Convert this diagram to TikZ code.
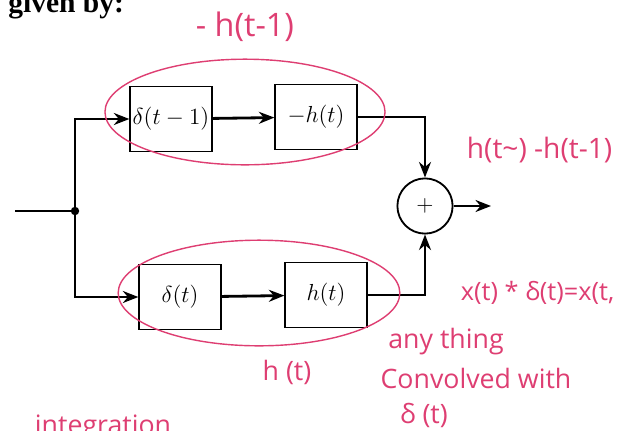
\documentclass[tikz,border=0pt]{standalone}
\usepackage{fix-cm}
\usepackage{fontspec}
\setmainfont{Liberation Serif}
\newfontfamily\handfont{Open Sans}
\usetikzlibrary{arrows.meta}
\definecolor{inkpink}{RGB}{222,62,114}

\begin{document}
\begin{tikzpicture}[x=0.025cm, y=-0.025cm,
  blk/.style={draw, line width=0.9pt, minimum width=2.05cm, minimum height=1.62cm, inner sep=1pt, font=\fontsize{16.5}{19}\selectfont},
  summ/.style={circle, draw, line width=1.3pt, minimum size=1.38cm, inner sep=0pt, font=\fontsize{16}{18}\selectfont},
  sig/.style={line width=2pt, -{Stealth[length=11pt,width=8.5pt]}},
  hand/.style={inkpink, font=\handfont\fontsize{19}{22}\selectfont},
  ringmark/.style={inkpink, line width=1pt}]
  \clip (0,0) rectangle (631,430);

  % heading
  \node[anchor=base west, inner sep=0pt, font=\bfseries\fontsize{21}{24}\selectfont] (title) at (8,12) {given by:};

  % upper branch
  \node[blk] (d1) at (171,119) {$\delta(t-1)$};
  \node[blk] (mh) at (316,117) {$-h(t)$};

  % lower branch
  \node[blk] (d0) at (180,297) {$\delta(t)$};
  \node[blk] (h0) at (326,295) {$h(t)$};

  % adder
  \node[summ] (sum) at (425,206) {$+$};

  \coordinate (in) at (15,211);
  \coordinate (jn) at (75,211);
  \coordinate (out) at (491,206);

  \draw[line width=2pt] (in) -- (jn);
  \draw[sig] (jn) |- (d1);
  \draw[sig] (jn) |- (d0);
  \draw[sig] (d1) -- (mh);
  \draw[sig] (d0) -- (h0);
  \draw[sig] (mh) -| (sum);
  \draw[sig] (h0) -| (sum);
  \draw[sig] (sum) -- (out);
  \fill (jn) circle (3pt);

  % hand-written marks
  \draw[ringmark] (245,112) ellipse [x radius=3.5cm, y radius=1.32cm];
  \draw[ringmark] (259,293) ellipse [x radius=3.52cm, y radius=1.32cm];

  \node[hand, font=\handfont\fontsize{23}{26}\selectfont] (lagnote) at (245,27) {- h(t-1)};
  \node[hand, font=\handfont\fontsize{20}{22}\selectfont, anchor=west] (diffnote) at (462,150) {h(t\textasciitilde) -h(t-1)};
  \node[hand, font=\handfont\fontsize{18}{20}\selectfont, anchor=west] (convnote) at (456,293) {x(t) * δ(t)=x(t,};
  \node[hand] (impnote) at (287,372) {h (t)};
  \node[hand] (anynote) at (446,342) {any thing};
  \node[hand] (withnote) at (476,378) {Convolved with};
  \node[hand] (deltanote) at (424,415) {δ (t)};
  \node[hand, anchor=base west] (intnote) at (30,434) {integration};
\end{tikzpicture}
\end{document}
